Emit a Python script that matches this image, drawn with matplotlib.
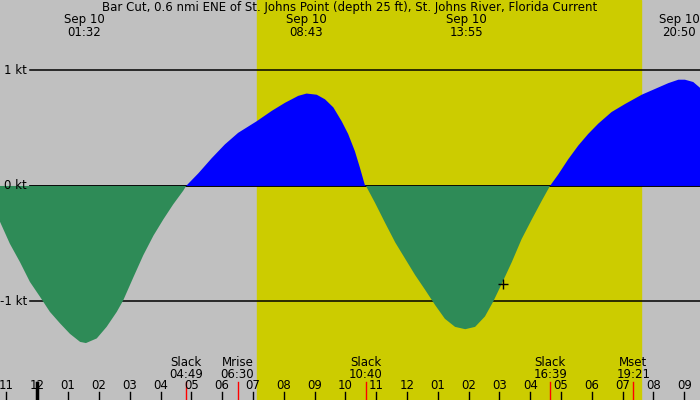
import numpy as np
import matplotlib
matplotlib.use("Agg")
import matplotlib.pyplot as plt
import matplotlib.transforms as mtransforms

# Прогноз течения (часы от полуночи 10 сен, узлы)
hours = [-1.21, -0.89, -0.56, -0.24, 0.09, 0.41, 0.74, 1.06, 1.39, 1.58,
         1.93, 2.25, 2.58, 2.79, 3.12, 3.44, 3.77, 4.09, 4.41, 4.74, 4.83,
         5.23, 5.66, 6.09, 6.52, 7.12, 7.61, 8.04, 8.47, 8.74, 9.07, 9.34,
         9.61, 9.88, 10.09, 10.31, 10.47, 10.63, 10.67,
         10.96, 11.29, 11.62, 11.94, 12.26, 12.59, 12.91, 13.23, 13.56, 13.89,
         14.21, 14.53, 14.80, 15.07, 15.40, 15.72, 16.05, 16.37, 16.64,
         16.91, 17.23, 17.56, 17.88, 18.21, 18.64, 19.08, 19.62, 20.05, 20.48,
         20.81, 21.02, 21.29, 21.51]
speed = [-0.31, -0.50, -0.66, -0.83, -0.96, -1.09, -1.19, -1.28, -1.35, -1.36,
         -1.32, -1.22, -1.09, -0.99, -0.79, -0.60, -0.43, -0.29, -0.16, -0.04, 0.0,
         0.11, 0.24, 0.36, 0.46, 0.56, 0.65, 0.72, 0.78, 0.80, 0.79, 0.75,
         0.68, 0.56, 0.45, 0.30, 0.16, 0.01, 0.0,
         -0.145, -0.32, -0.49, -0.63, -0.77, -0.90, -1.03, -1.15, -1.22, -1.24,
         -1.22, -1.13, -1.00, -0.85, -0.66, -0.46, -0.29, -0.13, 0.0,
         0.10, 0.23, 0.35, 0.45, 0.54, 0.64, 0.71, 0.79, 0.84, 0.89,
         0.92, 0.92, 0.90, 0.85]

# максимумы течения (верхние подписи)
max_hours = [1.53, 8.72, 13.92, 20.83]
max_labels = ["01:32", "08:43", "13:55", "20:50"]

# события внизу: штиль, восход/заход луны
event_hours = [-1.75, 4.82, 6.50, 10.67, 16.65, 19.35]
event_names = ["Slack", "Slack", "Mrise", "Slack", "Slack", "Mset"]
event_times = ["22:15", "04:49", "06:30", "10:40", "16:39", "19:21"]

sunrise, sunset = 7.13, 19.59
now_hour, now_speed = 15.12, -0.85

kt_levels = [1, 0, -1]
kt_labels = ["1 kt", "0 kt", "-1 kt"]

title = ("Bar Cut, 0.6 nmi ENE of St. Johns Point (depth 25 ft), "
         "St. Johns River, Florida Current")

fig = plt.figure(figsize=(7, 4), dpi=100)
fig.patch.set_facecolor("#c0c0c0")
ax = fig.add_axes([0, 0, 1, 1])
ax.set_facecolor("#c0c0c0")
ax.set_xlim(-1.21, 21.51)
ax.set_ylim(-1.853, 1.610)
ax.axis("off")

ax.axvspan(sunrise, sunset, color="#cccc00", zorder=0)

h = np.array(hours)
s = np.array(speed)
for lvl in kt_levels:
    ax.axhline(lvl, xmin=30 / 700, color="black", lw=1.1, zorder=1)
ax.fill_between(h, s, 0, where=s >= 0, interpolate=True, color="#0000ff", lw=0, zorder=2)
ax.fill_between(h, s, 0, where=s <= 0, interpolate=True, color="#2e8b57", lw=0, zorder=2)
ax.axhline(0, xmin=30 / 700, color="black", lw=1.1, zorder=1.5)

trans = mtransforms.blended_transform_factory(ax.transData, ax.transAxes)
ytrans = mtransforms.blended_transform_factory(ax.transAxes, ax.transData)
fs = 8.5

for lvl, lab in zip(kt_levels, kt_labels):
    ax.text(27 / 700, lvl, lab, transform=ytrans, ha="right", va="center", fontsize=fs, zorder=5)

ax.text(0.5, 0.981, title, transform=ax.transAxes, ha="center", va="center", fontsize=fs)

for mh, ml in zip(max_hours, max_labels):
    ax.text(mh, 0.952, "Sep 10", transform=trans, ha="center", va="center", fontsize=fs)
    ax.text(mh, 0.920, ml, transform=trans, ha="center", va="center", fontsize=fs)

for eh, en, et in zip(event_hours, event_names, event_times):
    ax.text(eh, 0.094, en, transform=trans, ha="center", va="center", fontsize=fs)
    ax.text(eh, 0.064, et, transform=trans, ha="center", va="center", fontsize=fs)
    ax.plot([eh, eh], [0, 0.045], transform=trans, color="red", lw=1, clip_on=False)

# часовые метки
for hr in range(-1, 22):
    lab = "%02d" % ((hr - 1) % 12 + 1)
    ax.text(hr, 0.036, lab, transform=trans, ha="center", va="center", fontsize=fs)
    if hr == 0:
        ax.plot([hr, hr], [0, 0.043], transform=trans, color="black", lw=2.5)
    else:
        ax.plot([hr, hr], [0, 0.021], transform=trans, color="black", lw=1)

ax.plot([now_hour], [now_speed], marker="+", color="black", markersize=7, mew=1, zorder=6)

fig.savefig("out.png", dpi=100, facecolor=fig.get_facecolor())
